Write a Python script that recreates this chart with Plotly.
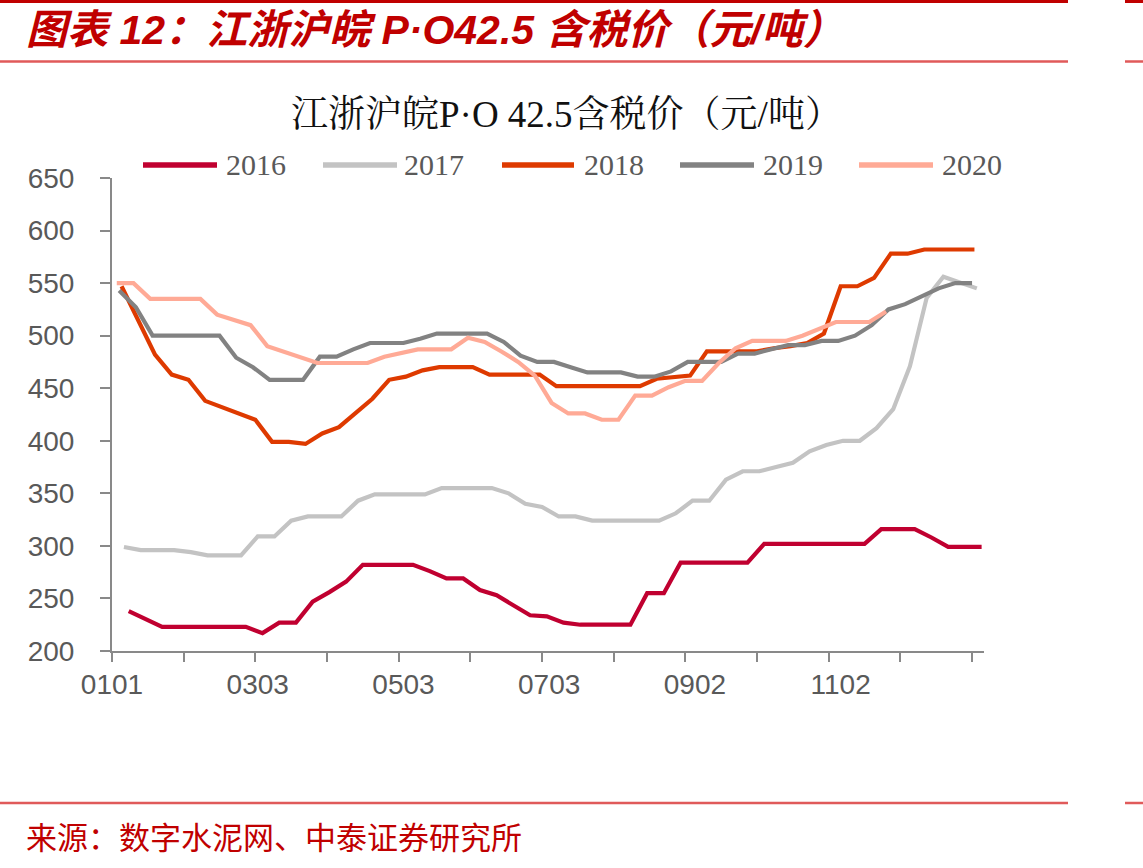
import plotly.graph_objects as go

# ---------------- data ----------------
years = ["2016", "2017", "2018", "2019", "2020"]
start_mmdd = ["0108", "0106", "0105", "0104", "0103"]  # first weekly (Friday) observation

v2016 = [238, 230, 223, 223, 223, 223, 223, 223, 217, 227, 227, 247, 256, 266, 282, 282,
         282, 282, 276, 269, 269, 258, 253, 243, 234, 233, 227, 225, 225, 225, 225, 255,
         255, 284, 284, 284, 284, 284, 302, 302, 302, 302, 302, 302, 302, 316, 316, 316,
         308, 299, 299, 299]
v2017 = [299, 296, 296, 296, 294, 291, 291, 291, 309, 309, 324, 328, 328, 328, 343, 349,
         349, 349, 349, 355, 355, 355, 355, 350, 340, 337, 328, 328, 324, 324, 324, 324,
         324, 331, 343, 343, 363, 371, 371, 375, 379, 390, 396, 400, 400, 412, 430, 471,
         536, 556, 551, 545]
v2018 = [547, 515, 482, 463, 458, 438, 432, 426, 420, 399, 399, 397, 407, 413, 427, 440,
         458, 461, 467, 470, 470, 470, 463, 463, 463, 463, 452, 452, 452, 452, 452, 452,
         459, 460, 462, 485, 485, 485, 485, 488, 490, 493, 502, 547, 547, 555, 578, 578,
         582, 582, 582, 582]
v2019 = [543, 527, 500, 500, 500, 500, 500, 479, 470, 458, 458, 458, 480, 480, 487, 493,
         493, 493, 497, 502, 502, 502, 502, 494, 481, 475, 475, 470, 465, 465, 465, 461,
         461, 466, 475, 475, 475, 483, 483, 487, 491, 491, 495, 495, 500, 510, 525, 530,
         537, 545, 550, 550]
v2020 = [550, 550, 535, 535, 535, 535, 520, 515, 510, 490, 485, 479, 474, 474, 474, 474,
         480, 484, 487, 487, 487, 498, 494, 485, 475, 462, 436, 426, 426, 420, 420, 443,
         443, 451, 457, 457, 474, 488, 495, 495, 495, 500, 506, 513, 513, 513, 523]
values = [v2016, v2017, v2018, v2019, v2020]

colors = ["#C00030", "#C3C3C3", "#DE3A00", "#828282", "#FFAA96"]
tick_labels = ["0101", "0303", "0503", "0703", "0902", "1102"]

title_text = "江浙沪皖P·O 42.5含税价（元/吨）"
header_text = "图表 12：江浙沪皖 P·O42.5 含税价（元/吨）"
source_text = "来源：数字水泥网、中泰证券研究所"

# ---------------- helpers ----------------
MONTH_START = [0, 31, 59, 90, 120, 151, 181, 212, 243, 273, 304, 334]


def doy(mmdd):
    return MONTH_START[int(mmdd[:2]) - 1] + int(mmdd[2:]) - 1


W, H = 1143, 868
L, R, T, B = 112, 984, 178, 651   # plot area in pixels


def px_x(px):
    return (px - L) / (R - L)


def px_y(py):
    return (B - py) / (B - T)


GRAY_TXT = "#595959"
AX = "#898989"
SANS = "Liberation Sans, Arial, sans-serif"
SERIF = "Liberation Serif, Times New Roman, Noto Serif CJK SC, Noto Sans CJK SC, serif"
CJK = "Noto Sans CJK SC, sans-serif"
HEAD = "Liberation Sans, Arial, Noto Sans CJK SC, sans-serif"

fig = go.Figure()
for yr, st, vals, col in zip(years, start_mmdd, values, colors):
    x0 = doy(st)
    xs = [x0 + 7 * i for i in range(len(vals))]
    fig.add_trace(go.Scatter(x=xs, y=vals, mode="lines", name=yr,
                             line=dict(color=col, width=4.2), showlegend=False))

# invisible helper trace so the label axis (x2) is drawn
label_days = [doy(t) for t in tick_labels]
fig.add_trace(go.Scatter(x=label_days, y=[None] * len(label_days), xaxis="x2", yaxis="y",
                         mode="markers", marker=dict(opacity=0), showlegend=False,
                         hoverinfo="skip"))

fig.update_layout(
    width=W, height=H,
    margin=dict(l=L, r=W - R, t=T, b=H - B),
    plot_bgcolor="white", paper_bgcolor="white",
    xaxis=dict(range=[0, 365], tickvals=list(range(0, 361, 30)), showticklabels=False,
               ticks="outside", ticklen=9, tickwidth=2, tickcolor=AX,
               showline=True, linecolor=AX, linewidth=2, showgrid=False, zeroline=False),
    xaxis2=dict(range=[0, 365], overlaying="x", anchor="y", side="bottom",
                tickvals=label_days, ticktext=tick_labels,
                ticks="", showline=False, showgrid=False, zeroline=False,
                tickfont=dict(family=SANS, size=28, color=GRAY_TXT),
                ticklabelstandoff=14),
    yaxis=dict(range=[200, 650], dtick=50, tick0=200, ticks="outside", ticklen=10,
               tickwidth=2, tickcolor=AX, showline=True, linecolor=AX, linewidth=2,
               showgrid=False, zeroline=False,
               tickfont=dict(family=SANS, size=28, color=GRAY_TXT),
               ticklabelstandoff=20),
)

shapes = []
annotations = []

# manual legend
leg_line = [(143, 217), (323, 397), (502, 574), (680, 754), (859, 933)]
leg_text = [224, 402, 582, 761, 940]
LEG_Y = 165
for yr, col, (a, b), tx in zip(years, colors, leg_line, leg_text):
    shapes.append(dict(type="line", xref="paper", yref="paper",
                       x0=px_x(a), x1=px_x(b), y0=px_y(LEG_Y), y1=px_y(LEG_Y),
                       line=dict(color=col, width=5.5)))
    annotations.append(dict(text=yr, xref="paper", yref="paper", x=px_x(tx), y=px_y(LEG_Y),
                            xanchor="left", yanchor="middle", showarrow=False,
                            font=dict(family=SERIF, size=30, color=GRAY_TXT)))

# chart title
annotations.append(dict(text=title_text, xref="paper", yref="paper", x=px_x(566), y=px_y(114),
                        xanchor="center", yanchor="middle", showarrow=False,
                        font=dict(family=SERIF, size=37, color="#111111")))

# header
annotations.append(dict(text="<b><i>" + header_text + "</i></b>", xref="paper", yref="paper",
                        x=px_x(24), y=px_y(30), xanchor="left", yanchor="middle",
                        showarrow=False, font=dict(family=HEAD, size=41, color="#C00000")))
# source
annotations.append(dict(text=source_text, xref="paper", yref="paper",
                        x=px_x(24), y=px_y(835), xanchor="left", yanchor="middle",
                        showarrow=False, font=dict(family=CJK, size=31, color="#C00000")))

# decorative red rules
for (yy, w, c) in [(1.5, 3, "#C00000"), (61.5, 2.5, "#E05A5A"), (803, 2.5, "#E05A5A")]:
    for (a, b) in [(0, 1068), (1125, 1143)]:
        shapes.append(dict(type="line", xref="paper", yref="paper",
                           x0=px_x(a), x1=px_x(b), y0=px_y(yy), y1=px_y(yy),
                           line=dict(color=c, width=w)))

fig.update_layout(shapes=shapes, annotations=annotations)
fig.write_html("out.html")
